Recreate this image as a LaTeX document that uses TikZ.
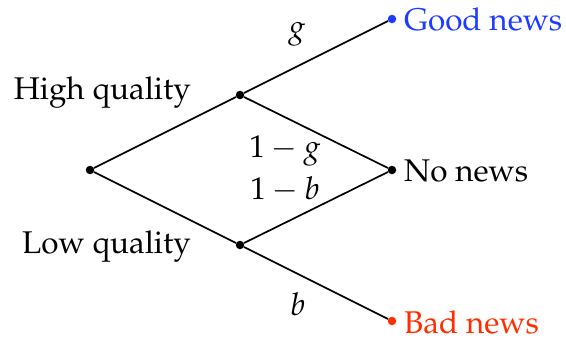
\documentclass[tikz,border=0pt]{standalone}
\usepackage[T1]{fontenc}
\usepackage{mathpazo}
\definecolor{goodc}{RGB}{30,60,255}
\definecolor{badc}{RGB}{255,45,0}
\begin{document}
\begin{tikzpicture}[x=1pt,y=-1pt,
  dotn/.style={circle,fill,inner sep=0pt,minimum size=8.5pt},
  lbl/.style={font=\fontsize{31.4}{36}\selectfont,inner sep=0pt},
  edge/.style={line width=1.7pt}]
\useasboundingbox (0,0) rectangle (566,341);
\node[dotn] (r) at (90,170) {};
\node[dotn] (h) at (240,95) {};
\node[dotn] (l) at (240,245) {};
\node[dotn] (n) at (392,170) {};
\node[dotn,goodc] (g) at (392,19) {};
\node[dotn,badc] (b) at (392,321) {};
\draw[edge] (r) -- (h);
\draw[edge] (r) -- (l);
\draw[edge] (h) -- (g);
\draw[edge] (h) -- (n);
\draw[edge] (l) -- (n);
\draw[edge] (l) -- (b);
\node[lbl,anchor=east] (hq) at (191,93) {High quality};
\node[lbl,anchor=east] (lq) at (191,247) {Low quality};
\node[lbl,anchor=west,text=goodc] (gn) at (404,19) {Good news};
\node[lbl,anchor=west] (nn) at (404,171) {No news};
\node[lbl,anchor=west,text=badc] (bn) at (404,322) {Bad news};
\node[lbl] (pg) at (297,34) {$g$};
\node[lbl] (p1g) at (285,151) {$1-g$};
\node[lbl] (p1b) at (285,189) {$1-b$};
\node[lbl] (pb) at (298,304) {$b$};
\end{tikzpicture}
\end{document}
